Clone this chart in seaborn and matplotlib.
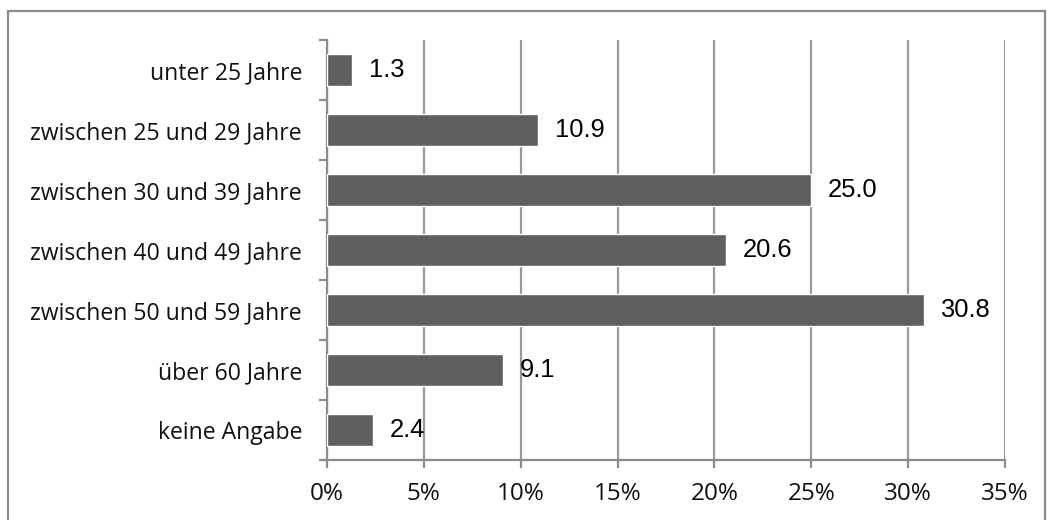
import matplotlib
matplotlib.use("Agg")
import matplotlib.pyplot as plt
import seaborn as sns
import pandas as pd
import numpy as np
from matplotlib.patches import Rectangle
from matplotlib.ticker import FixedLocator, FuncFormatter

categories = ["unter 25 Jahre", "zwischen 25 und 29 Jahre", "zwischen 30 und 39 Jahre",
              "zwischen 40 und 49 Jahre", "zwischen 50 und 59 Jahre", "über 60 Jahre", "keine Angabe"]
values = [1.3, 10.9, 25.0, 20.6, 30.8, 9.1, 2.4]
xticks = [0, 5, 10, 15, 20, 25, 30, 35]

df = pd.DataFrame({"cat": categories, "val": values})

sns.set_style("white")
plt.rcParams['font.family'] = ['Open Sans', 'DejaVu Sans']

fig = plt.figure(figsize=(10.47, 5.2), dpi=100)
ax = fig.add_axes([327/1047, 1-460/520, (1005-327)/1047, 420/520])

sns.barplot(data=df, y="cat", x="val", orient="h", color="#5f5f5f", saturation=1,
            width=0.52, ax=ax, zorder=3)

ax.set_xlim(0, 35)
ax.set_ylim(len(categories)-0.5, -0.5)
ax.set_xlabel("")
ax.set_ylabel("")
ax.xaxis.set_major_locator(FixedLocator(xticks))
ax.xaxis.set_major_formatter(FuncFormatter(lambda v, p: f"{int(v)}%"))
ax.grid(axis="x", color="#999999", linewidth=1.6, zorder=0)
ax.grid(axis="y", visible=False)

for s in ["top", "right"]:
    ax.spines[s].set_visible(False)
for s in ["left", "bottom"]:
    ax.spines[s].set_color("#8c8c8c")
    ax.spines[s].set_linewidth(1.6)

ax.tick_params(axis="x", length=6, width=1.6, color="#8c8c8c", labelsize=17.5, pad=10,
               labelcolor="#111111", bottom=True)
ax.tick_params(axis="y", which="major", length=0, labelsize=16.6, pad=18, labelcolor="#111111")
ax.set_yticks(np.arange(-0.5, len(categories), 1), minor=True)
ax.tick_params(axis="y", which="minor", length=6, width=1.6, color="#8c8c8c", left=True)

for i, v in enumerate(values):
    ax.text(v + 0.85, i, f"{v:.1f}", va="center", ha="left", fontsize=18.4,
            family="Liberation Sans", color="#000000", zorder=4)

fig.patches.append(Rectangle((8/1047, -0.05), (1045-8)/1047, 1-11/520+0.05,
                             transform=fig.transFigure, fill=False,
                             edgecolor="#8c8c8c", linewidth=1.6))

fig.savefig("out.png", dpi=100)
